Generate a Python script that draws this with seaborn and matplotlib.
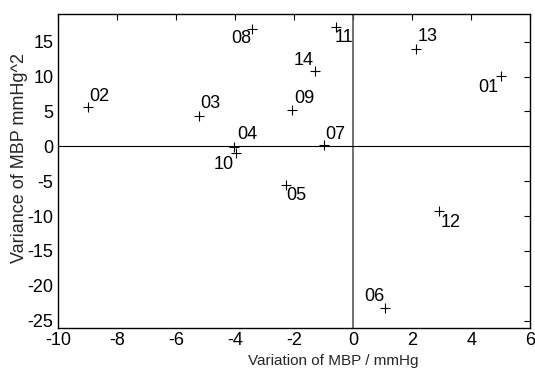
import matplotlib
matplotlib.use("Agg")
import matplotlib.pyplot as plt
import seaborn as sns
import pandas as pd

# Subject data
subjects = ["01", "02", "03", "04", "05", "06", "07", "08", "09", "10", "11", "12", "13", "14"]
variation = [5.0, -8.97, -5.23, -4.04, -2.28, 1.09, -0.98, -3.41, -2.07, -3.98, -0.58, 2.9, 2.12, -1.28]
variance = [10.1, 5.7, 4.4, -0.15, -5.5, -23.2, 0.14, 16.8, 5.24, -0.95, 17.05, -9.3, 14.0, 10.86]

x_ticks = [-10, -8, -6, -4, -2, 0, 2, 4, 6]
y_ticks = [-25, -20, -15, -10, -5, 0, 5, 10, 15]

df = pd.DataFrame({"subject": subjects, "variation": variation, "variance": variance})

sns.set_theme(style="white")
plt.rcParams["font.family"] = ["Liberation Sans", "DejaVu Sans"]
plt.rcParams["axes.unicode_minus"] = False

fig, ax = plt.subplots(figsize=(5.35, 3.74), dpi=100)
fig.subplots_adjust(left=0.108, right=0.991, top=0.963, bottom=0.124)

ax.axvline(0, color="0.35", lw=1.2, zorder=1)
ax.axhline(0, color="black", lw=0.8, zorder=1)

sns.scatterplot(data=df, x="variation", y="variance", marker="+", color="black",
                s=60, linewidth=0.8, ax=ax, zorder=3)

# label placement: (dx, dy) in pixels, ha, va
place = {
    "01": (-2, -3, "right", "top"),
    "02": (1, 2, "left", "bottom"),
    "03": (2, 4, "left", "bottom"),
    "04": (3, 4, "left", "bottom"),
    "05": (1, -2, "left", "top"),
    "06": (-1, 3, "right", "bottom"),
    "07": (1, 2, "left", "bottom"),
    "08": (-1, -1, "right", "top"),
    "09": (2, 3, "left", "bottom"),
    "10": (-2, -3, "right", "top"),
    "11": (-1, -2, "left", "top"),
    "12": (2, -3, "left", "top"),
    "13": (2, 4, "left", "bottom"),
    "14": (-2, 2, "right", "bottom"),
}
for s, xv, yv in zip(subjects, variation, variance):
    dx, dy, ha, va = place[s]
    ax.annotate(s, (xv, yv), xytext=(dx * 0.72, dy * 0.72), textcoords="offset points",
                ha=ha, va=va, fontsize=13, color="black")

ax.set_xlim(-10, 6)
ax.set_ylim(-26, 19)
ax.set_xticks(x_ticks)
ax.set_yticks(y_ticks)
ax.tick_params(direction="in", length=4, width=0.8, top=True, right=True,
               labelsize=13, colors="black", pad=3)
for sp in ax.spines.values():
    sp.set_color("black")
    sp.set_linewidth(1.0)

ax.set_xlabel("Variation of MBP / mmHg", fontsize=11)
ax.set_ylabel("Variance of MBP mmHg^2", fontsize=13)
ax.xaxis.set_label_coords(0.583, -0.085)
ax.yaxis.set_label_coords(-0.062, 0.54)

fig.savefig("out.png", dpi=100)
